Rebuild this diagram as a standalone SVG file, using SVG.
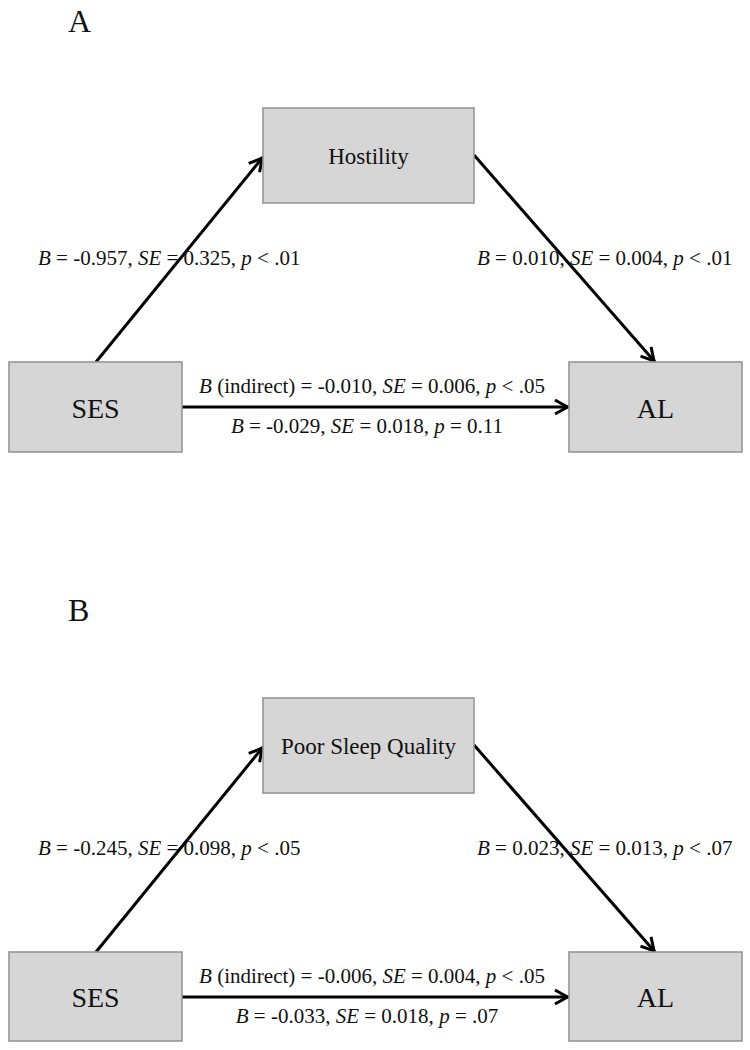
<svg xmlns="http://www.w3.org/2000/svg" width="750" height="1050" viewBox="0 0 750 1050">
<style>
.box{fill:#d6d6d6;stroke:#969696;stroke-width:1.6}
.t{font-family:"Liberation Serif","Times New Roman",serif;fill:#111}
.lbl{font-size:21px}
.mid{font-size:23px;text-anchor:middle}
.big{font-size:28px;text-anchor:middle}
.panel{font-size:32px}
.edge{stroke:#000;stroke-width:3;fill:none}
</style>
<defs>
<marker id="arr" markerUnits="userSpaceOnUse" markerWidth="20" markerHeight="20" refX="0" refY="0" viewBox="-16 -10 20 20" orient="auto" overflow="visible">
<path d="M-14,-7 L-1.5,0 L-14,7" fill="none" stroke="#000" stroke-width="3" stroke-linejoin="miter"/>
</marker>
</defs>
<rect width="750" height="1050" fill="#fff"/>

<text class="t panel" x="68" y="32">A</text>
<text class="t panel" x="68" y="621">B</text>

<g id="edges">
<line class="edge" x1="96" y1="362" x2="263" y2="157" marker-end="url(#arr)"/>
<line class="edge" x1="474" y1="155" x2="655" y2="362" marker-end="url(#arr)"/>
<line class="edge" x1="182" y1="407" x2="569" y2="407" marker-end="url(#arr)"/>
<line class="edge" x1="96" y1="952" x2="263" y2="747" marker-end="url(#arr)"/>
<line class="edge" x1="474" y1="745" x2="655" y2="952" marker-end="url(#arr)"/>
<line class="edge" x1="182" y1="997" x2="569" y2="997" marker-end="url(#arr)"/>
</g>

<g id="labels">
<text class="t lbl" x="38" y="265"><tspan font-style="italic">B</tspan> = -0.957, <tspan font-style="italic">SE</tspan> = 0.325, <tspan font-style="italic">p</tspan> &lt; .01</text>
<text class="t lbl" x="477" y="265"><tspan font-style="italic">B</tspan> = 0.010, <tspan font-style="italic">SE</tspan> = 0.004, <tspan font-style="italic">p</tspan> &lt; .01</text>
<text class="t lbl" x="372" y="393" text-anchor="middle"><tspan font-style="italic">B</tspan> (indirect) = -0.010, <tspan font-style="italic">SE</tspan> = 0.006, <tspan font-style="italic">p</tspan> &lt; .05</text>
<text class="t lbl" x="367" y="433" text-anchor="middle"><tspan font-style="italic">B</tspan> = -0.029, <tspan font-style="italic">SE</tspan> = 0.018, <tspan font-style="italic">p</tspan> = 0.11</text>

<text class="t lbl" x="38" y="855"><tspan font-style="italic">B</tspan> = -0.245, <tspan font-style="italic">SE</tspan> = 0.098, <tspan font-style="italic">p</tspan> &lt; .05</text>
<text class="t lbl" x="477" y="855"><tspan font-style="italic">B</tspan> = 0.023, <tspan font-style="italic">SE</tspan> = 0.013, <tspan font-style="italic">p</tspan> &lt; .07</text>
<text class="t lbl" x="372" y="983" text-anchor="middle"><tspan font-style="italic">B</tspan> (indirect) = -0.006, <tspan font-style="italic">SE</tspan> = 0.004, <tspan font-style="italic">p</tspan> &lt; .05</text>
<text class="t lbl" x="367" y="1023" text-anchor="middle"><tspan font-style="italic">B</tspan> = -0.033, <tspan font-style="italic">SE</tspan> = 0.018, <tspan font-style="italic">p</tspan> = .07</text>
</g>

<g id="hostility">
<rect class="box" x="263" y="108" width="211" height="95"/>
<text class="t mid" x="368.5" y="164">Hostility</text>
</g>
<g id="ses-a">
<rect class="box" x="9" y="362" width="173" height="90"/>
<text class="t big" x="95.5" y="418">SES</text>
</g>
<g id="al-a">
<rect class="box" x="569" y="362" width="173" height="90"/>
<text class="t big" x="655.5" y="418">AL</text>
</g>

<g id="sleep">
<rect class="box" x="263" y="698" width="211" height="95"/>
<text class="t mid" x="368.5" y="754">Poor Sleep Quality</text>
</g>
<g id="ses-b">
<rect class="box" x="9" y="952" width="173" height="89"/>
<text class="t big" x="95.5" y="1007">SES</text>
</g>
<g id="al-b">
<rect class="box" x="569" y="952" width="173" height="89"/>
<text class="t big" x="655.5" y="1007">AL</text>
</g>
</svg>
